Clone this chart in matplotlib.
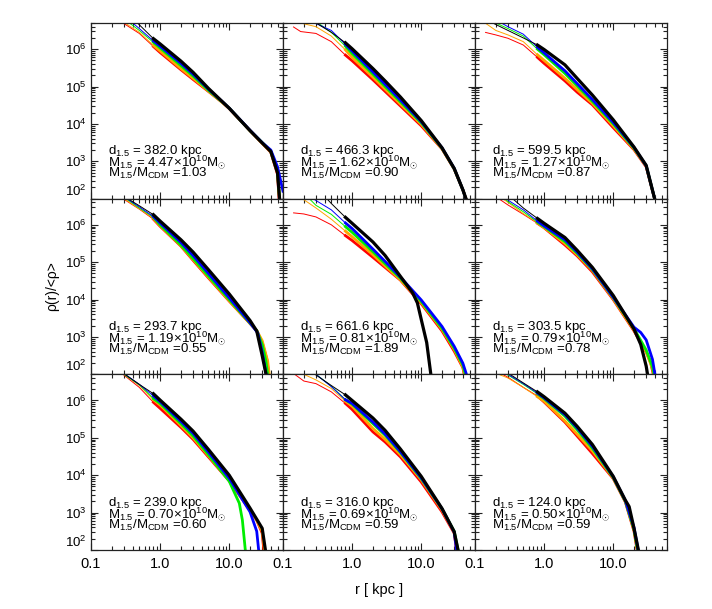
import numpy as np
import matplotlib
matplotlib.use("Agg")
import matplotlib.pyplot as plt
from matplotlib.ticker import FixedLocator, FixedFormatter, LogLocator, NullFormatter

plt.rcParams['font.family'] = ['Liberation Sans', 'DejaVu Sans']
plt.rcParams['mathtext.fontset'] = 'custom'
plt.rcParams['mathtext.rm'] = 'Liberation Sans'
plt.rcParams['mathtext.it'] = 'Liberation Sans:italic'
plt.rcParams['mathtext.bf'] = 'Liberation Sans:bold'

# ---------------- data: (r [kpc], log10 rho/<rho>) ----------------
# panel annotations
d15 = ["382.0", "466.3", "599.5", "293.7", "661.6", "303.5", "239.0", "316.0", "124.0"]
m15 = ["4.47", "1.62", "1.27", "1.19", "0.81", "0.79", "0.70", "0.69", "0.50"]
ratio = ["1.03", "0.90", "0.87", "0.55", "1.89", "0.78", "0.60", "0.59", "0.59"]

p1_red = [(0.29,6.7),(0.5,6.42),(0.8,6.07),(1,5.91),(2,5.45),(3,5.19),(5,4.87),(8,4.57),(10,4.41),(20,3.82),(30,3.48),(40,3.24),(50,2.65),(53,1.9)]
p1_orange = [(0.31,6.7),(0.5,6.45),(0.8,6.1),(1,5.95),(2,5.48),(3,5.22),(5,4.88),(8,4.57),(10,4.41),(20,3.82),(30,3.48),(40,3.25),(50,2.7),(54,1.9)]
p1_green = [(0.36,6.7),(0.5,6.5),(0.8,6.18),(1,6.03),(2,5.56),(3,5.28),(5,4.9),(8,4.58),(10,4.42),(20,3.82),(30,3.5),(40,3.27),(50,2.72),(54,1.9)]
p1_blue = [(0.4,6.7),(0.5,6.55),(0.8,6.22),(1,6.08),(2,5.62),(3,5.33),(5,4.93),(8,4.59),(10,4.42),(20,3.83),(30,3.5),(40,3.3),(50,2.85),(60,2.2)]
p1_black = [(0.47,6.7),(0.8,6.28),(1,6.14),(2,5.68),(3,5.38),(5,4.95),(8,4.59),(10,4.42),(20,3.82),(30,3.49),(40,3.26),(50,2.69),(54,1.9)]

p2_red = [(0.14,6.6),(0.18,6.47),(0.3,6.42),(0.5,6.2),(0.8,5.84),(1,5.69),(2,5.18),(3,4.87),(5,4.48),(10,3.95),(20,3.33),(30,2.79),(40,2.24),(46,1.9)]
p2_orange = [(0.18,6.7),(0.3,6.6),(0.5,6.35),(0.8,5.98),(1,5.78),(2,5.25),(3,4.93),(5,4.53),(10,3.99),(20,3.34),(30,2.8),(40,2.24),(46,1.9)]
p2_green = [(0.32,6.7),(0.5,6.45),(0.8,6.08),(1,5.88),(2,5.33),(3,5.0),(5,4.59),(10,4.03),(20,3.35),(30,2.8),(40,2.24),(46,1.9)]
p2_blue = [(0.29,6.7),(0.5,6.5),(0.8,6.13),(1,5.95),(2,5.39),(3,5.06),(5,4.64),(10,4.06),(20,3.36),(30,2.81),(40,2.24),(46,1.9)]
p2_black = [(0.3,6.7),(0.5,6.45),(0.8,6.17),(1,6.01),(2,5.48),(3,5.15),(5,4.72),(10,4.09),(20,3.36),(30,2.81),(40,2.24),(46.5,1.9)]

p3_red = [(0.14,6.45),(0.2,6.38),(0.3,6.29),(0.5,6.11),(0.8,5.78),(1,5.62),(2,5.15),(3,4.85),(5,4.51),(10,3.9),(20,3.31),(30,2.85),(41,1.9)]
p3_orange = [(0.14,6.7),(0.2,6.5),(0.3,6.38),(0.5,6.2),(0.8,5.85),(1,5.7),(2,5.22),(3,4.92),(5,4.55),(10,3.95),(20,3.33),(30,2.87),(41,1.9)]
p3_green = [(0.2,6.7),(0.3,6.55),(0.5,6.35),(0.8,6.0),(1,5.85),(2,5.35),(3,5.02),(5,4.6),(10,4.0),(20,3.35),(30,2.88),(41,1.9)]
p3_blue = [(0.24,6.7),(0.3,6.6),(0.5,6.4),(0.8,6.05),(1,5.9),(2,5.42),(3,5.08),(5,4.65),(10,4.04),(20,3.37),(30,2.88),(41,1.9)]
p3_black = [(0.18,6.7),(0.3,6.5),(0.5,6.3),(0.8,6.11),(1,5.99),(2,5.58),(3,5.22),(5,4.77),(10,4.11),(20,3.38),(30,2.89),(41,1.9)]

p4_red = [(0.29,6.7),(0.5,6.42),(0.8,6.15),(1,5.96),(2,5.43),(3,5.05),(5,4.58),(10,3.96),(20,3.36),(25,3.17),(30,2.85),(35,2.4),(38,1.9)]
p4_orange = [(0.3,6.7),(0.5,6.43),(0.8,6.17),(1,5.98),(2,5.44),(3,5.07),(5,4.6),(10,3.97),(20,3.36),(25,3.17),(30,2.9),(36,2.35),(38.5,1.9)]
p4_green = [(0.32,6.7),(0.5,6.45),(0.8,6.2),(1,6.0),(2,5.46),(3,5.1),(5,4.63),(10,4.0),(20,3.37),(25,3.17),(30,2.8),(34,2.35),(36.5,1.9)]
p4_blue = [(0.33,6.7),(0.5,6.48),(0.8,6.22),(1,6.05),(2,5.53),(3,5.18),(5,4.7),(10,4.05),(20,3.38),(26,3.1),(30,2.6),(35,1.9)]
p4_black = [(0.34,6.7),(0.5,6.51),(0.8,6.27),(1,6.1),(2,5.6),(3,5.27),(5,4.8),(10,4.15),(20,3.44),(25,3.16),(30,2.5),(35,1.9)]

p5_red = [(0.14,6.32),(0.2,6.29),(0.3,6.21),(0.5,6.0),(0.8,5.71),(1,5.58),(2,5.13),(3,4.86),(5,4.52),(10,3.89),(20,3.16),(30,2.62),(40,2.18),(43,1.9)]
p5_orange = [(0.19,6.7),(0.3,6.45),(0.5,6.15),(0.8,5.83),(1,5.68),(2,5.2),(3,4.9),(5,4.53),(10,3.92),(20,3.2),(30,2.67),(40,2.2),(44,1.9)]
p5_green = [(0.24,6.7),(0.3,6.52),(0.5,6.28),(0.8,5.95),(1,5.8),(2,5.28),(3,4.96),(5,4.57),(10,3.95),(20,3.23),(30,2.7),(40,2.25),(45,1.9)]
p5_blue = [(0.27,6.7),(0.3,6.65),(0.5,6.4),(0.8,6.05),(1,5.9),(2,5.35),(3,5.02),(5,4.6),(10,3.99),(20,3.28),(30,2.75),(40,2.3),(47,1.9)]
p5_black = [(0.43,6.7),(0.5,6.57),(0.8,6.2),(1,6.04),(2,5.54),(3,5.18),(5,4.62),(7.5,4.18),(8.8,3.91),(10,3.47),(12,2.85),(14,1.9)]

p6_red = [(0.22,6.7),(0.3,6.53),(0.5,6.28),(0.8,6.04),(1,5.92),(2,5.46),(3,5.17),(5,4.74),(10,4.0),(20,3.16),(30,2.6),(35,2.3),(39,1.9)]
p6_orange = [(0.25,6.7),(0.3,6.6),(0.5,6.3),(0.8,6.05),(1,5.93),(2,5.5),(3,5.2),(5,4.78),(10,4.02),(20,3.18),(30,2.6),(37,2.15),(40,1.9)]
p6_green = [(0.27,6.7),(0.3,6.62),(0.5,6.35),(0.8,6.07),(1,5.95),(2,5.55),(3,5.24),(5,4.8),(10,4.05),(20,3.22),(30,2.65),(37,2.2),(40,1.9)]
p6_blue = [(0.29,6.7),(0.3,6.66),(0.5,6.4),(0.8,6.1),(1,5.97),(2,5.6),(3,5.27),(5,4.82),(10,4.06),(20,3.26),(25,3.12),(30,2.92),(37,2.4),(41,1.9)]
p6_black = [(0.35,6.7),(0.5,6.45),(0.8,6.17),(1,6.04),(2,5.66),(3,5.32),(5,4.86),(10,4.11),(20,3.21),(25,2.8),(30,2.22),(32,1.9)]

p7_red = [(0.29,6.7),(0.5,6.35),(0.8,5.95),(1,5.79),(2,5.28),(3,4.96),(5,4.49),(10,3.85),(20,3.07),(25,2.8),(30,2.45),(32,1.9)]
p7_orange = [(0.3,6.7),(0.5,6.4),(0.8,6.02),(1,5.88),(2,5.33),(3,5.0),(5,4.52),(10,3.86),(20,3.06),(25,2.8),(30,2.5),(33,1.9)]
p7_green = [(0.3,6.7),(0.5,6.42),(0.8,6.05),(1,5.92),(2,5.38),(3,5.05),(5,4.55),(10,3.84),(14,3.25),(15.5,2.8),(17.3,1.9)]
p7_blue = [(0.31,6.7),(0.5,6.43),(0.8,6.12),(1,5.97),(2,5.44),(3,5.12),(5,4.62),(10,3.92),(20,3.02),(25,2.5),(27,1.9)]
p7_black = [(0.31,6.7),(0.5,6.43),(0.8,6.18),(1,6.01),(2,5.5),(3,5.18),(5,4.69),(10,4.0),(20,3.12),(30,2.58),(34,1.9)]

p8_red = [(0.15,6.69),(0.2,6.52),(0.3,6.45),(0.5,6.23),(0.8,5.92),(1,5.76),(2,5.16),(3,4.89),(5,4.49),(10,3.82),(20,3.02),(30,2.45),(33,1.9)]
p8_orange = [(0.2,6.7),(0.3,6.55),(0.5,6.32),(0.8,5.98),(1,5.85),(2,5.25),(3,4.96),(5,4.55),(10,3.88),(20,3.07),(30,2.48),(34,1.9)]
p8_green = [(0.3,6.7),(0.5,6.38),(0.8,6.02),(1,5.9),(2,5.38),(3,5.07),(5,4.61),(10,3.91),(20,3.1),(30,2.5),(35,1.9)]
p8_blue = [(0.3,6.7),(0.5,6.37),(0.8,6.02),(1,5.92),(2,5.42),(3,5.1),(5,4.63),(10,3.93),(20,3.1),(30,2.48),(33,1.9)]
p8_black = [(0.29,6.7),(0.5,6.4),(0.8,6.15),(1,6.0),(2,5.53),(3,5.2),(5,4.7),(10,3.97),(20,3.11),(30,2.49),(35,1.9)]

p9_red = [(0.25,6.7),(0.3,6.62),(0.5,6.35),(0.8,6.12),(1,5.96),(2,5.42),(3,5.05),(5,4.58),(10,3.91),(15,3.28),(20,2.5),(22.6,1.9)]
p9_orange = [(0.22,6.7),(0.3,6.6),(0.5,6.35),(0.8,6.1),(1,5.98),(2,5.45),(3,5.1),(5,4.65),(10,3.93),(15,3.3),(20,2.55),(23,1.9)]
p9_green = [(0.28,6.7),(0.3,6.68),(0.5,6.43),(0.8,6.18),(1,6.05),(2,5.58),(3,5.22),(5,4.72),(10,3.94),(15,3.3),(20,2.55),(23,1.9)]
p9_blue = [(0.3,6.7),(0.5,6.45),(0.8,6.2),(1,6.07),(2,5.62),(3,5.27),(5,4.77),(10,3.96),(15,3.32),(20,2.6),(23.5,1.9)]
p9_black = [(0.32,6.7),(0.5,6.47),(0.8,6.23),(1,6.1),(2,5.66),(3,5.31),(5,4.82),(10,3.97),(15,3.33),(17,3.16),(20,2.58),(23.7,1.9)]

panels = [
    [p1_red, p1_orange, p1_green, p1_blue, p1_black],
    [p2_red, p2_orange, p2_green, p2_blue, p2_black],
    [p3_red, p3_orange, p3_green, p3_blue, p3_black],
    [p4_red, p4_orange, p4_green, p4_blue, p4_black],
    [p5_red, p5_orange, p5_green, p5_blue, p5_black],
    [p6_red, p6_orange, p6_green, p6_blue, p6_black],
    [p7_red, p7_orange, p7_green, p7_blue, p7_black],
    [p8_red, p8_orange, p8_green, p8_blue, p8_black],
    [p9_red, p9_orange, p9_green, p9_blue, p9_black],
]
colors = ['#ff0000', '#ffa500', '#00ee00', '#0000ff', '#000000']
r_conv = 0.8  # convergence radius: thin inside, thick outside

xticks = [0.1, 1.0, 10.0]
xticklabels = ["0.1", "1.0", "10.0"]

# ---------------- figure ----------------
fig = plt.figure(figsize=(7.12, 6.09), dpi=100)
gs = fig.add_gridspec(3, 3, left=91/712, right=667/712, top=1-23/609, bottom=1-550/609,
                      wspace=0, hspace=0)

for i in range(9):
    row, col = divmod(i, 3)
    ax = fig.add_subplot(gs[row, col])
    for curve, c in zip(panels[i], colors):
        r = np.array([p[0] for p in curve])
        rho = 10 ** np.array([p[1] for p in curve])
        thin = r <= r_conv
        thick = r >= r_conv
        lw = 2.3 if c == '#000000' else 2.0
        if thin.sum() > 1:
            ax.plot(r[thin], rho[thin], color=c, lw=0.7, solid_capstyle='butt')
        ax.plot(r[thick], rho[thick], color=c, lw=lw, solid_joinstyle='round')
    ax.set_xscale('log')
    ax.set_yscale('log')
    ax.set_xlim(0.1, 60)
    ax.set_ylim(100, 5e6)
    ax.xaxis.set_major_locator(FixedLocator(xticks))
    ax.xaxis.set_minor_locator(LogLocator(base=10, subs=np.arange(2, 10), numticks=20))
    ax.yaxis.set_major_locator(LogLocator(base=10, numticks=20))
    ax.yaxis.set_minor_locator(LogLocator(base=10, subs=np.arange(2, 10), numticks=20))
    ax.xaxis.set_minor_formatter(NullFormatter())
    ax.yaxis.set_minor_formatter(NullFormatter())
    ax.tick_params(which='both', direction='in', top=True, right=True, width=0.8,
                   color='#222222')
    ax.tick_params(axis='x', labelsize=10.5, pad=5)
    ax.tick_params(axis='y', labelsize=9.5, pad=3)
    ax.tick_params(which='major', length=5.2)
    ax.tick_params(which='minor', length=2.6)
    if row == 2:
        ax.xaxis.set_major_formatter(FixedFormatter(xticklabels))
    else:
        ax.tick_params(axis='x', labelbottom=False)
    if col != 0:
        ax.tick_params(axis='y', labelleft=False)
    for sp in ax.spines.values():
        sp.set_linewidth(0.9)
        sp.set_color('#222222')
    note = ("d$_{1.5}$ = " + d15[i] + " kpc\n"
            + "M$_{1.5}$ = " + m15[i] + r"×10$^{10}$M$_{\odot}$" + "\n"
            + r"M$_{1.5}$/M$_{\mathrm{CDM}}$ =" + ratio[i])
    ax.text(0.089, 0.098, note, transform=ax.transAxes, fontsize=9.5,
            va='bottom', ha='left', linespacing=0.55)
    if col == 0:
        fig.canvas.draw()
        for tl, val in zip(ax.get_yticklabels(), ax.get_yticks()):
            if abs(val - 100) < 1e-6:
                tl.set_va('bottom')

fig.text(51.7/712, 1-286/609, r"ρ(r)/<ρ>", rotation=90, ha='center', va='center', fontsize=10)
fig.text(379/712, 1-590/609, "r [ kpc ]", ha='center', va='center', fontsize=10.5)

fig.savefig("out.png", dpi=100)
